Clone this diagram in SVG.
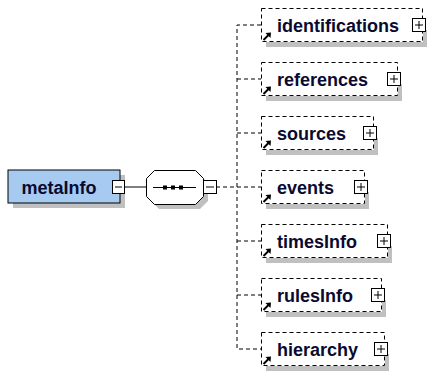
<svg xmlns="http://www.w3.org/2000/svg" width="428" height="371" viewBox="0 0 428 371">
<defs>
<style>
.sh{fill:#c0c0c0;stroke:none}
.el{fill:none;stroke:#000;stroke-width:1;stroke-dasharray:4,3}
.lbl{font-family:"Liberation Sans",Arial,sans-serif;font-weight:bold;font-size:18px;fill:#0a0a30}
.btn{fill:#fff;stroke:#000;stroke-width:1}
.pm{stroke:#000;stroke-width:1;fill:none}
.dl{stroke:#000;stroke-width:1;fill:none;stroke-dasharray:4,3}
.sl{stroke:#000;stroke-width:1;fill:none}
</style>
<g id="refarrow">
<path d="M0.5,8 L5.5,3" stroke="#000" stroke-width="2" fill="none"/>
<polygon points="8,0.5 2.5,1 7.5,6" fill="#000"/>
</g>
</defs>
<rect width="428" height="371" fill="#fff"/>
<g id="connectors">
<line class="sl" x1="125" y1="187" x2="146" y2="187"/>
<line class="dl" x1="216" y1="187" x2="261" y2="187"/>
<path class="dl" d="M261,25 H237 V349 H261"/>
<line class="dl" x1="237" y1="79" x2="261" y2="79"/>
<line class="dl" x1="237" y1="133" x2="261" y2="133"/>
<line class="dl" x1="237" y1="241" x2="261" y2="241"/>
<line class="dl" x1="237" y1="295" x2="261" y2="295"/>
</g>
<g id="metaInfo">
<rect class="sh" x="13" y="175" width="112" height="33"/>
<rect x="8" y="170" width="112" height="33" fill="#a6caf0" stroke="#000"/>
<text class="lbl" x="59" y="193.5" text-anchor="middle">metaInfo</text>
<rect class="btn" x="112.5" y="180.5" width="12" height="13"/>
<line class="pm" x1="115" y1="187" x2="122" y2="187"/>
</g>
<g id="sequence">
<polygon class="sh" points="159,175 200,175 208,183 208,201 200,209 159,209 151,201 151,183"/>
<polygon points="154.5,170.5 195.5,170.5 203.5,178.5 203.5,196.5 195.5,204.5 154.5,204.5 146.5,196.5 146.5,178.5" fill="#fff" stroke="#000"/>
<line class="sl" x1="153" y1="187.5" x2="196" y2="187.5"/>
<rect x="163" y="185.5" width="4" height="4" fill="#000"/>
<rect x="171" y="185.5" width="4" height="4" fill="#000"/>
<rect x="179" y="185.5" width="4" height="4" fill="#000"/>
<rect class="btn" x="203.5" y="180.5" width="13" height="13"/>
<line class="pm" x1="206" y1="187" x2="214" y2="187"/>
</g>
<g id="identifications">
<rect class="sh" x="266" y="42" width="161" height="5"/>
<rect class="sh" x="423" y="30" width="4" height="17"/>
<rect class="el" x="261.5" y="8.5" width="161" height="33"/>
<use href="#refarrow" x="263" y="32"/>
<text class="lbl" x="277" y="31.5">identifications</text>
<rect class="btn" x="412.5" y="18.5" width="13" height="13"/>
<path class="pm" d="M415,25 H423 M419,21 V29"/>
</g>
<g id="references">
<rect class="sh" x="266" y="96" width="136" height="5"/>
<rect class="sh" x="398" y="84" width="4" height="17"/>
<rect class="el" x="261.5" y="62.5" width="136" height="33"/>
<use href="#refarrow" x="263" y="86"/>
<text class="lbl" x="277" y="85.5">references</text>
<rect class="btn" x="387.5" y="72.5" width="13" height="13"/>
<path class="pm" d="M390,79 H398 M394,75 V83"/>
</g>
<g id="sources">
<rect class="sh" x="266" y="150" width="112" height="5"/>
<rect class="sh" x="374" y="138" width="4" height="17"/>
<rect class="el" x="261.5" y="116.5" width="112" height="33"/>
<use href="#refarrow" x="263" y="140"/>
<text class="lbl" x="277" y="139.5">sources</text>
<rect class="btn" x="363.5" y="126.5" width="13" height="13"/>
<path class="pm" d="M366,133 H374 M370,129 V137"/>
</g>
<g id="events">
<rect class="sh" x="266" y="204" width="103" height="5"/>
<rect class="sh" x="365" y="192" width="4" height="17"/>
<rect class="el" x="261.5" y="170.5" width="103" height="33"/>
<use href="#refarrow" x="263" y="194"/>
<text class="lbl" x="277" y="193.5">events</text>
<rect class="btn" x="354.5" y="180.5" width="13" height="13"/>
<path class="pm" d="M357,187 H365 M361,183 V191"/>
</g>
<g id="timesInfo">
<rect class="sh" x="266" y="258" width="126" height="5"/>
<rect class="sh" x="388" y="246" width="4" height="17"/>
<rect class="el" x="261.5" y="224.5" width="126" height="33"/>
<use href="#refarrow" x="263" y="248"/>
<text class="lbl" x="277" y="247.5">timesInfo</text>
<rect class="btn" x="377.5" y="234.5" width="13" height="13"/>
<path class="pm" d="M380,241 H388 M384,237 V245"/>
</g>
<g id="rulesInfo">
<rect class="sh" x="266" y="312" width="120" height="5"/>
<rect class="sh" x="382" y="300" width="4" height="17"/>
<rect class="el" x="261.5" y="278.5" width="120" height="33"/>
<use href="#refarrow" x="263" y="302"/>
<text class="lbl" x="277" y="301.5">rulesInfo</text>
<rect class="btn" x="371.5" y="288.5" width="13" height="13"/>
<path class="pm" d="M374,295 H382 M378,291 V299"/>
</g>
<g id="hierarchy">
<rect class="sh" x="266" y="366" width="123" height="5"/>
<rect class="sh" x="385" y="354" width="4" height="17"/>
<rect class="el" x="261.5" y="332.5" width="123" height="33"/>
<use href="#refarrow" x="263" y="356"/>
<text class="lbl" x="277" y="355.5">hierarchy</text>
<rect class="btn" x="374.5" y="342.5" width="13" height="13"/>
<path class="pm" d="M377,349 H385 M381,345 V353"/>
</g>
</svg>
